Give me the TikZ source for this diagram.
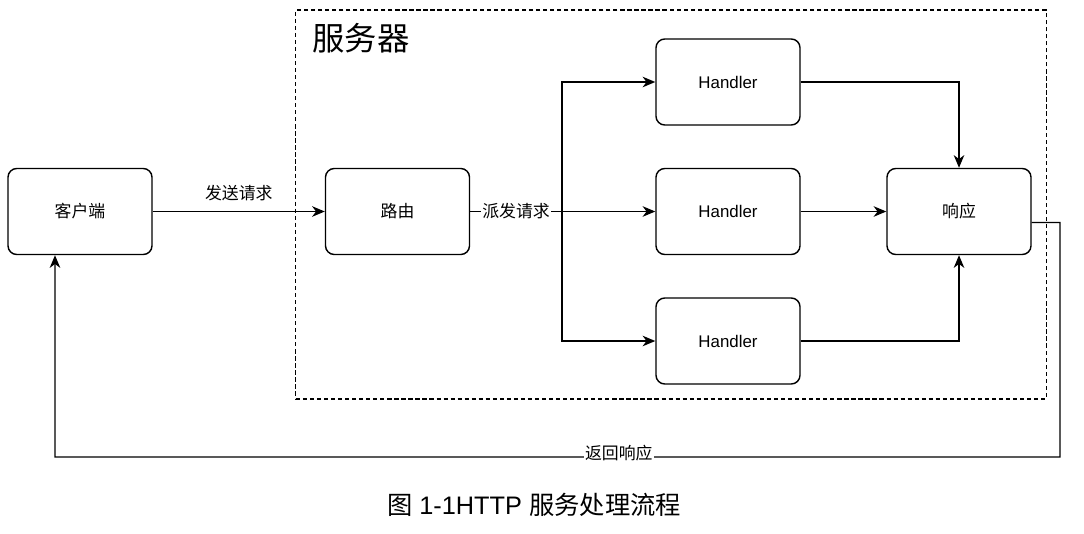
\documentclass[tikz,border=0pt]{standalone}
\usepackage{fontspec}
\setmainfont{Liberation Sans}
\newfontfamily\cjk{Noto Sans CJK SC}
\usetikzlibrary{arrows.meta}

\begin{document}
\begin{tikzpicture}[x=0.025cm,y=-0.025cm]
    \tikzstyle{box}=[rectangle,draw,rounded corners=0.22cm,line width=1pt,minimum width=3.6cm,minimum height=2.15cm,font=\fontsize{12}{14}\selectfont]
    \tikzstyle{flow}=[line width=1pt,-{Stealth[length=9pt,width=7.5pt,inset=2.8pt]}]
    \tikzstyle{tag}=[font=\cjk\fontsize{12}{14}\selectfont,fill=white,inner sep=1pt]
    \useasboundingbox (0,0) rectangle (1084,533);
    \begin{scope}
        \node[draw,dashed,dash pattern=on 3pt off 2pt,line width=0.8pt,minimum width=18.75cm,minimum height=9.725cm,inner sep=0] (server) at (671,204.5) {};
        \node[font=\cjk\fontsize{23}{26}\selectfont,inner sep=0] (servername) at (361,38) {服务器};
        \node[box] (route) at (397.5,211.5) {\cjk 路由};
        \node[box] (h1) at (728,82) {Handler};
        \node[box] (h2) at (728,211.5) {Handler};
        \node[box] (h3) at (728,341) {Handler};
        \node[box] (resp) at (959,211.5) {\cjk 响应};
        \coordinate (fork) at (562,211.5);
    \end{scope}
    \node[box] (client) at (80,211.5) {\cjk 客户端};
    \coordinate (back) at (1060,457);
    \coordinate (corner) at (55,457);
    % requests
    \draw[flow] (client) -- node[tag,fill=none,above=6pt] {发送请求} (route);
    \draw[line width=1pt] (route) -- node[tag] {派发请求} (fork);
    \draw[flow] (fork) |- (h1);
    \draw[flow] (fork) -- (h2);
    \draw[flow] (fork) |- (h3);
    % responses
    \draw[flow] (h1) -| (resp);
    \draw[flow] (h2) -- (resp);
    \draw[flow] (h3) -| (resp);
    \draw[flow] ([yshift=-0.275cm]resp.east) -| (back) -- node[tag,pos=0.439,yshift=3pt] {返回响应} (corner) -- ([xshift=-0.625cm]client.south);
    \node[font=\fontsize{18}{20}\selectfont] (caption) at (534,505) {{\cjk 图} 1-1HTTP {\cjk 服务处理流程}};
\end{tikzpicture}
\end{document}
